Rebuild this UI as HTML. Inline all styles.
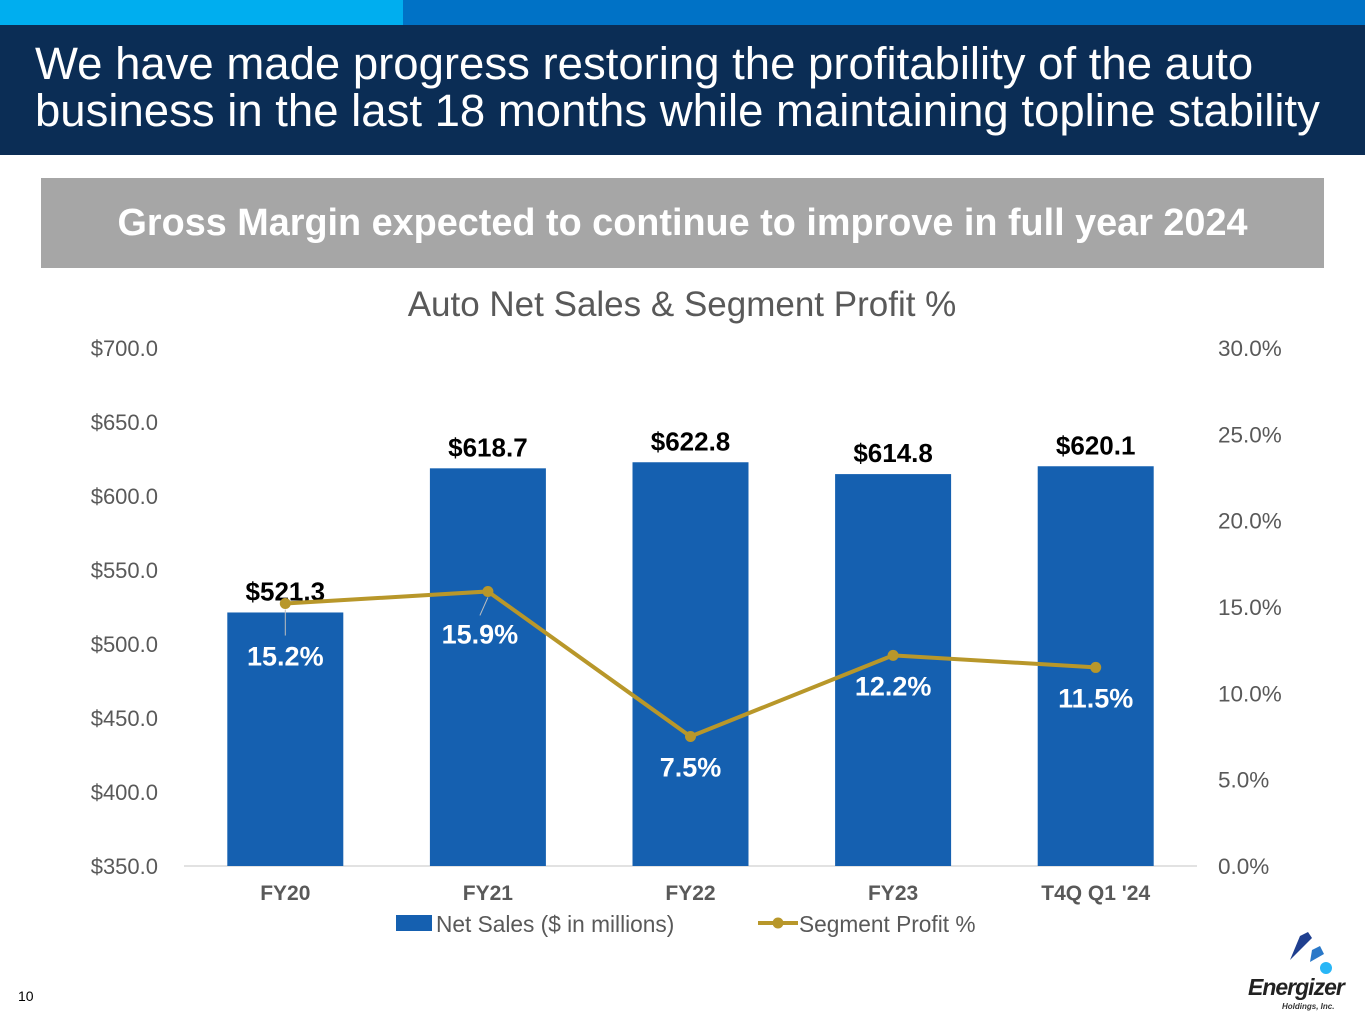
<!DOCTYPE html>
<html><head><meta charset="utf-8">
<style>
body{margin:0;width:1365px;height:1024px;background:#fff;font-family:"Liberation Sans",Arial,sans-serif;position:relative;overflow:hidden}
.abs{position:absolute}
</style></head>
<body>
<div class="abs" style="left:0;top:0;width:403px;height:25px;background:#00AEEF"></div>
<div class="abs" style="left:403px;top:0;width:962px;height:25px;background:#0072C6"></div>
<div class="abs" style="left:0;top:25px;width:1365px;height:130px;background:#0B2D55"></div>
<div class="abs" style="left:35px;top:40px;color:#fff;font-size:45.5px;line-height:47px;white-space:nowrap">We have made progress restoring the profitability of the auto<br>business in the last 18 months while maintaining topline stability</div>
<div class="abs" style="left:41px;top:178px;width:1283px;height:90px;background:#A6A6A6;color:#fff;font-weight:bold;font-size:37.8px;line-height:90px;text-align:center;white-space:nowrap">Gross Margin expected to continue to improve in full year 2024</div>
<div class="abs" style="left:18px;top:988px;font-size:14px">10</div>
<div class="abs" style="left:1240px;top:930px;width:125px;height:94px">
<svg width="125" height="94"><polygon points="60,6 68,2 72,8 50,30" fill="#1F3F8F"/><polygon points="72,20 80,16 84,24 70,32" fill="#2A78C8"/><circle cx="86" cy="38" r="6" fill="#29B6F6"/></svg>
<div class="abs" style="left:8px;top:44px;font-size:23px;font-weight:bold;font-style:italic;color:#222;letter-spacing:-1px">Energizer</div>
<div class="abs" style="left:42px;top:72px;font-size:8px;font-style:italic;font-weight:bold;color:#333">Holdings, Inc.</div>
</div>
<svg class="abs" style="left:0;top:0" width="1365" height="1024" id="chart"></svg>
<script>
const categories=["FY20","FY21","FY22","FY23","T4Q Q1 '24"];
const sales=[521.3,618.7,622.8,614.8,620.1];
const profit=[15.2,15.9,7.5,12.2,11.5];
const leftTicks=[350,400,450,500,550,600,650,700];
const rightTicks=[0,5,10,15,20,25,30];
const NS="http://www.w3.org/2000/svg";
const svg=document.getElementById('chart');
const y0=866,y1=348,xL=184,xR=1197;
const yL=v=>y0-(v-350)/350*(y0-y1);
const yR=v=>y0-v/30*(y0-y1);
const step=(xR-xL)/categories.length;
const xC=i=>xL+step*(i+0.5);
function mk(tag,attrs,txt){const e=document.createElementNS(NS,tag);for(const k in attrs)e.setAttribute(k,attrs[k]);if(txt!==undefined)e.textContent=txt;svg.appendChild(e);return e;}
let t=mk('text',{x:682,y:316,'text-anchor':'middle','font-size':35,fill:'#595959'},'Auto Net Sales & Segment Profit %');


leftTicks.forEach(v=>{const e=mk('text',{x:158,y:yL(v)+8,'text-anchor':'end','font-size':22,fill:'#595959'},'$'+v.toFixed(1));

});
rightTicks.forEach(v=>{const e=mk('text',{x:1218,y:yR(v)+8,'font-size':22.5,fill:'#595959'},v.toFixed(1)+'%');

});
let ax=mk('line',{x1:xL,x2:xR,y1:y0,y2:y0,stroke:'#D9D9D9','stroke-width':1.5});


const bw=116;
sales.forEach((v,i)=>{const r=mk('rect',{x:xC(i)-bw/2,y:yL(v),width:bw,height:y0-yL(v),fill:'#1560B0'});


const l=mk('text',{x:xC(i),y:yL(v)-12,'text-anchor':'middle','font-size':26,'font-weight':'bold',fill:'#000'},'$'+v.toFixed(1));


const c=mk('text',{x:xC(i),y:y0+34,'text-anchor':'middle','font-size':21,'font-weight':'bold',fill:'#595959'},categories[i]);

});
const pl=mk('polyline',{points:profit.map((v,i)=>xC(i)+','+yR(v)).join(' '),fill:'none',stroke:'#B8972A','stroke-width':4});


const off=[[0,62],[8,52],[0,40],[0,40],[0,40]];
profit.forEach((v,i)=>{const p=mk('circle',{cx:xC(i),cy:yR(v),r:5.5,fill:'#B8972A'});


const l=mk('text',{x:xC(i)-off[i][0],y:yR(v)+off[i][1],'text-anchor':'middle','font-size':27,'font-weight':'bold',fill:'#fff'},v.toFixed(1)+'%');

});
mk('line',{x1:xC(0),x2:xC(0),y1:yR(profit[0])+6,y2:yR(profit[0])+32,stroke:'#BFBFBF','stroke-width':1});
mk('line',{x1:xC(1),x2:xC(1)-8,y1:yR(profit[1])+6,y2:yR(profit[1])+24,stroke:'#BFBFBF','stroke-width':1});
const lg1=mk('rect',{x:396,y:915,width:36,height:16,fill:'#1560B0'});


const lt1=mk('text',{x:436,y:932,'font-size':22.7,fill:'#595959'},'Net Sales ($ in millions)');


const lg2=mk('line',{x1:758,x2:798,y1:923,y2:923,stroke:'#B8972A','stroke-width':4});


mk('circle',{cx:778,cy:923,r:5.5,fill:'#B8972A'});
const lt2=mk('text',{x:799,y:932,'font-size':22.7,fill:'#595959'},'Segment Profit %');


</script>
</body></html>
